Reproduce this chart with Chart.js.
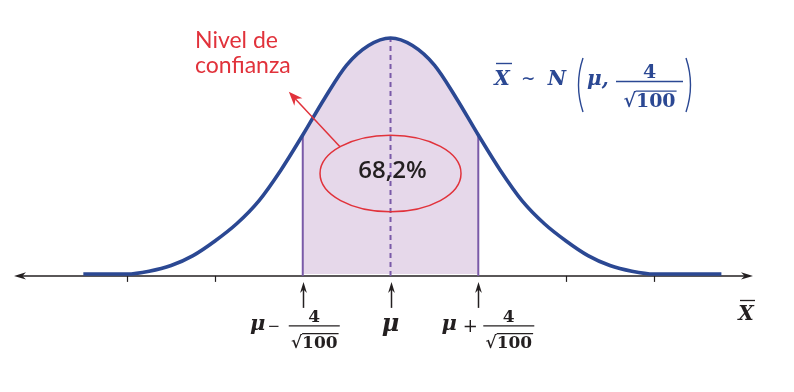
<!DOCTYPE html>
<html lang="es">
<head>
<meta charset="UTF-8">
<title>Nivel de confianza</title>
<script src="https://cdn.jsdelivr.net/npm/chart.js@4"></script>
<style>
  html, body { margin: 0; padding: 0; background: #fff; }
  #wrap { width: 794px; height: 392px; position: relative; }
</style>
</head>
<body>
<div id="wrap"><canvas id="chart"></canvas></div>
<script>
// posición en desviaciones típicas (z) y altura relativa de la curva
const curveZ = [-3.5, -3.0, -2.75, -2.5, -2.25, -2.0, -1.75, -1.5, -1.25, -1.0, -0.75, -0.5, -0.25, 0,
                0.25, 0.5, 0.75, 1.0, 1.25, 1.5, 1.75, 2.0, 2.25, 2.5, 2.75, 3.0, 3.77];
const curveH = [0, 0, 0.012, 0.036, 0.078, 0.14, 0.214, 0.31, 0.44, 0.589, 0.745, 0.885, 0.968, 1,
                0.968, 0.885, 0.745, 0.589, 0.44, 0.31, 0.214, 0.14, 0.078, 0.036, 0.012, 0, 0];
const areaRange = [-1, 1];
const areaLabel = '68,2%';
const plainTicks = [-3, -2, 2, 3];
const markedTicks = [-1, 0, 1];
const axisLevel = -0.008;

const INK = '#231f20';
const BLUE = '#2b4893';
const RED = '#e1323b';
const PURPLE = '#7a5aa8';
const LAV = '#e6d8ea';
const SERIF = '"DejaVu Serif", "Liberation Serif", serif';

const points = curveZ.map((z, i) => ({ x: z, y: curveH[i] }));
const areaPoints = points.filter(p => p.x >= areaRange[0] && p.x <= areaRange[1]);
const hAt = z => curveH[curveZ.indexOf(z)];

function segment(z, y1, y2, dash) {
  return {
    data: [{ x: z, y: y1 }, { x: z, y: y2 }],
    borderColor: PURPLE, borderWidth: 2, borderDash: dash || [],
    pointRadius: 0, fill: false, clip: false, order: 1
  };
}

// ---------- helpers de texto matemático ----------
function sqrtText(ctx, x, base, digits, size) {
  ctx.font = `bold ${size}px ${SERIF}`;
  ctx.textAlign = 'left';
  ctx.textBaseline = 'alphabetic';
  const r = ctx.measureText('√');
  ctx.fillText('√', x, base);
  const dx = x + r.width;
  ctx.fillText(digits, dx, base);
  const end = dx + ctx.measureText(digits).width;
  const top = base - r.actualBoundingBoxAscent + 0.7;
  ctx.lineWidth = 1.3;
  ctx.beginPath();
  ctx.moveTo(x + r.actualBoundingBoxRight - 0.8, top);
  ctx.lineTo(end + 1, top);
  ctx.stroke();
}
function sqrtWidth(ctx, digits, size) {
  ctx.font = `bold ${size}px ${SERIF}`;
  return ctx.measureText('√').width + ctx.measureText(digits).width;
}
function frac(ctx, left, barY, barW, num, rad, size, color) {
  ctx.fillStyle = color; ctx.strokeStyle = color;
  ctx.lineWidth = 1.3;
  ctx.beginPath(); ctx.moveTo(left, barY); ctx.lineTo(left + barW, barY); ctx.stroke();
  ctx.font = `bold ${size}px ${SERIF}`;
  ctx.textAlign = 'center'; ctx.textBaseline = 'alphabetic';
  ctx.fillText(num, left + barW / 2, barY - 4);
  const w = sqrtWidth(ctx, rad, size);
  sqrtText(ctx, left + (barW - w) / 2, barY + Math.round(size * 1.3), rad, size);
}
function italic(ctx, txt, x, base, size, color, align) {
  ctx.font = `italic bold ${size}px ${SERIF}`;
  ctx.fillStyle = color;
  ctx.textAlign = align || 'left';
  ctx.textBaseline = 'alphabetic';
  ctx.fillText(txt, x, base);
}
function paren(ctx, x, top, bottom, dir) {
  const mid = (top + bottom) / 2;
  ctx.lineWidth = 1.4;
  ctx.beginPath();
  ctx.moveTo(x, top);
  ctx.quadraticCurveTo(x - dir * 9, mid, x, bottom);
  ctx.stroke();
}
function arrowHead(ctx, tx, ty, dx, dy, len, half) {
  const nx = -dy, ny = dx;
  ctx.beginPath();
  ctx.moveTo(tx, ty);
  ctx.lineTo(tx - dx * len + nx * half, ty - dy * len + ny * half);
  ctx.lineTo(tx - dx * len * 0.7, ty - dy * len * 0.7);
  ctx.lineTo(tx - dx * len - nx * half, ty - dy * len - ny * half);
  ctx.closePath();
  ctx.fill();
}

// eje horizontal con flechas, marcas y anotaciones
const axisPlugin = {
  id: 'axisPlugin',
  beforeDatasetsDraw(chart) {
    const ctx = chart.ctx, xs = chart.scales.x, ys = chart.scales.y;
    const y0 = ys.getPixelForValue(axisLevel);
    const xl = xs.left, xr = xs.right;
    ctx.save();
    ctx.strokeStyle = INK; ctx.fillStyle = INK;
    ctx.lineWidth = 1.5;
    ctx.beginPath(); ctx.moveTo(xl + 4, y0); ctx.lineTo(xr - 4, y0); ctx.stroke();
    arrowHead(ctx, xl, y0, -1, 0, 12, 3.6);
    arrowHead(ctx, xr, y0, 1, 0, 12, 3.6);
    ctx.lineWidth = 1.2;
    plainTicks.forEach(z => {
      const px = Math.round(xs.getPixelForValue(z)) + 0.5;
      ctx.beginPath(); ctx.moveTo(px, y0); ctx.lineTo(px, y0 + 6); ctx.stroke();
    });
    ctx.restore();
  },
  afterDatasetsDraw(chart) {
    const ctx = chart.ctx, xs = chart.scales.x, ys = chart.scales.y;
    const y0 = ys.getPixelForValue(axisLevel);
    ctx.save();
    ctx.strokeStyle = INK; ctx.fillStyle = INK;
    // flechas bajo el eje
    markedTicks.forEach(z => {
      const px = Math.round(xs.getPixelForValue(z)) + 0.5;
      ctx.lineWidth = 1.5;
      ctx.beginPath(); ctx.moveTo(px, y0 + 32); ctx.lineTo(px, y0 + 12); ctx.stroke();
      arrowHead(ctx, px, y0 + 6, 0, -1, 11, 3.4);
    });
    // etiquetas de las flechas
    const pm = xs.getPixelForValue(-1), p0 = xs.getPixelForValue(0), pp = xs.getPixelForValue(1);
    const barY = y0 + 50;
    italic(ctx, 'μ', p0, barY + 5, 24, INK, 'center');
    italic(ctx, 'μ', pm - 45, barY + 4, 21, INK, 'center');
    ctx.font = `15px ${SERIF}`; ctx.textAlign = 'center';
    ctx.fillText('−', pm - 29, barY + 5);
    frac(ctx, pm - 14, barY, 51, '4', '100', 17, INK);
    italic(ctx, 'μ', pp - 29, barY + 4, 21, INK, 'center');
    ctx.font = `18px ${SERIF}`; ctx.textAlign = 'center';
    ctx.fillText('+', pp - 8, barY + 6);
    frac(ctx, pp + 5, barY, 51, '4', '100', 17, INK);
    // nombre de la variable
    italic(ctx, 'X', 746, 320, 20, INK, 'center');
    ctx.lineWidth = 1.3;
    ctx.beginPath(); ctx.moveTo(740, 300.5); ctx.lineTo(755, 300.5); ctx.stroke();

    // elipse y porcentaje
    const cx = p0, cy = ys.getPixelForValue(0.426);
    ctx.strokeStyle = RED; ctx.fillStyle = RED; ctx.lineWidth = 1.5;
    ctx.beginPath(); ctx.ellipse(cx, cy, 70.5, 38.3, 0, 0, Math.PI * 2); ctx.stroke();
    const t = -2.37;
    const sx = cx + 70.5 * Math.cos(t), sy = cy + 38.3 * Math.sin(t);
    const tx = cx - 101.7, ty = cy - 81.6;
    const len = Math.hypot(tx - sx, ty - sy);
    const ux = (tx - sx) / len, uy = (ty - sy) / len;
    ctx.beginPath(); ctx.moveTo(sx, sy); ctx.lineTo(tx - ux * 8, ty - uy * 8); ctx.stroke();
    arrowHead(ctx, tx, ty, ux, uy, 14, 5.5);
    ctx.font = '23px Lato, "Open Sans", sans-serif';
    ctx.textAlign = 'left'; ctx.textBaseline = 'alphabetic';
    ctx.fillText('Nivel de', 195, 48);
    ctx.fillText('confianza', 195, 73);
    ctx.fillStyle = INK;
    ctx.font = '600 24px "Open Sans", sans-serif';
    ctx.textAlign = 'center';
    ctx.fillText(areaLabel, cx + 2, cy + 5);

    // distribución de la media muestral
    ctx.fillStyle = BLUE; ctx.strokeStyle = BLUE;
    italic(ctx, 'X', 502, 85, 20, BLUE, 'center');
    ctx.lineWidth = 1.4;
    ctx.beginPath(); ctx.moveTo(496, 63.5); ctx.lineTo(512, 63.5); ctx.stroke();
    ctx.font = `bold 17px ${SERIF}`; ctx.textAlign = 'center';
    ctx.fillText('∼', 528, 84);
    italic(ctx, 'N', 557, 85, 20, BLUE, 'center');
    paren(ctx, 583, 58, 112, 1);
    italic(ctx, 'μ,', 587, 85, 20, BLUE, 'left');
    frac(ctx, 616, 81.5, 67, '4', '100', 19, BLUE);
    paren(ctx, 686, 58, 112, -1);
    ctx.restore();
  }
};

new Chart(document.getElementById('chart'), {
  type: 'line',
  data: {
    datasets: [
      { data: points, borderColor: BLUE, borderWidth: 3.6, pointRadius: 0,
        cubicInterpolationMode: 'monotone', fill: false, clip: false, order: 0 },
      { data: areaPoints, borderWidth: 0, borderColor: 'rgba(0,0,0,0)', backgroundColor: LAV, pointRadius: 0,
        cubicInterpolationMode: 'monotone', fill: { value: axisLevel }, order: 2 },
      segment(areaRange[0], axisLevel, hAt(areaRange[0])),
      segment(areaRange[1], axisLevel, hAt(areaRange[1])),
      segment(0, axisLevel, hAt(0), [5, 4])
    ]
  },
  options: {
    responsive: true,
    maintainAspectRatio: false,
    animation: false,
    events: [],
    layout: { padding: { left: 14, right: 41, top: 38, bottom: 118 } },
    plugins: { legend: { display: false }, tooltip: { enabled: false }, title: { display: false } },
    scales: {
      x: { type: 'linear', min: -4.29, max: 4.13, display: false },
      y: { min: 0, max: 1, display: false }
    }
  },
  plugins: [axisPlugin]
});
</script>
</body>
</html>
